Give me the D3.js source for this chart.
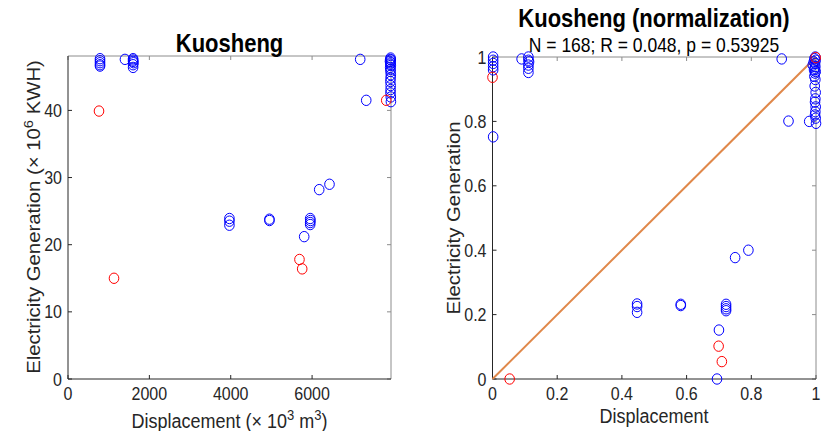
<!DOCTYPE html>
<html><head><meta charset="utf-8">
<script src="https://cdn.jsdelivr.net/npm/d3@7"></script>
<style>
body{margin:0;background:#fff;}
svg{display:block;font-family:"Liberation Sans",Arial,sans-serif;}
</style></head>
<body><svg id="c" width="824" height="431"></svg>
<script>
// ---------- data (left: raw, right: normalized) ----------
const leftBlueX = [787,787,787,787,787, 1400, 1600,1600,1600,1610,1600,1600,
  3968,3968,3968, 4952,4952, 5953,5960,5953,5953, 5806, 6175,6428, 7183, 7331,
  7930,7920,7935,7915,7930,7925,7935,7920,7930,7928,7935,7930,7925,7932,7930,7928,7935,7938];
const leftBlueY = [47.7,47.4,47.1,46.8,46.6, 47.6, 47.7,47.5,47.3,47.1,46.8,46.4,
  23.9,23.5,22.9, 23.8,23.6, 23.9,23.6,23.3,23.0, 21.2, 28.2,29.0, 47.6, 41.5,
  47.8,47.6,47.5,47.3,47.1,46.9,46.7,46.4,46.1,45.8,45.3,44.8,44.3,43.7,43.1,42.6,42.0,41.3];
const leftRedX = [762, 1131, 5690, 5757, 7823];
const leftRedY = [39.9, 15.0, 17.8, 16.4, 41.5];

const rightBlueX = [0.002,0.002,0.002,0.002,0.002, 0.002, 0.09,
  0.111,0.111,0.113,0.111,0.111,0.111,
  0.447,0.447,0.447, 0.582,0.582, 0.722,0.722,0.722,0.722, 0.700,0.694, 0.75,0.791,
  0.894, 0.915,0.979,
  0.998,0.995,0.999,0.993,0.997,0.99,0.998,0.996,0.994,0.999,0.997,0.995,0.998,0.996,0.999,0.998,0.997,0.999,0.998,0.997,0.999,1.0];
const rightBlueY = [1.0,0.99,0.98,0.97,0.96, 0.752, 0.994,
  1.0,0.99,0.985,0.975,0.965,0.952,
  0.233,0.225,0.207, 0.232,0.228, 0.232,0.225,0.218,0.212, 0.152,0.0, 0.377,0.40,
  0.994, 0.801,0.80,
  1.0,0.995,0.99,0.985,0.98,0.975,0.97,0.965,0.96,0.955,0.95,0.94,0.93,0.91,0.89,0.87,0.86,0.845,0.83,0.82,0.81,0.794];
const rightRedX = [0.0, 0.053, 0.699, 0.709, 0.999];
const rightRedY = [0.937, 0.0, 0.102, 0.054, 0.998];

const leftXTicks = [0,2000,4000,6000];
const leftYTicks = [0,10,20,30,40];
const rightTicks = [0,0.2,0.4,0.6,0.8,1];
const fitLine = [[0,0],[1,1]];

const svg = d3.select("#c");
const DARK = "#262626", LIGHT = "#8c8c8c";
const VS = 1.13; // vertical stretch of the reference image

function htext(g, x, y, size, anchor, str, opts={}){
  const t = g.append("text")
    .attr("transform", `translate(${x},${y}) scale(1,${VS})`)
    .attr("text-anchor", anchor).attr("font-size", size)
    .attr("fill", opts.fill || DARK);
  if (opts.bold) t.attr("font-weight","bold");
  if (str !== null) t.text(str);
  return t;
}
function vtext(g, x, y, size, str){
  const t = g.append("text")
    .attr("transform", `translate(${x},${y}) scale(1,${VS}) rotate(-90)`)
    .attr("text-anchor","middle").attr("font-size",size).attr("fill",DARK);
  if (str !== null) t.text(str);
  return t;
}

function drawAxes(g, x, y, xt, yt, fmt){
  const [x0,x1] = x.range(), [y0,y1] = y.range();
  const tl = 4;
  xt.forEach(v=>{
    g.append("line").attr("x1",x(v)).attr("x2",x(v)).attr("y1",y0).attr("y2",y0-tl).attr("stroke",DARK);
    g.append("line").attr("x1",x(v)).attr("x2",x(v)).attr("y1",y1).attr("y2",y1+tl).attr("stroke",LIGHT);
    htext(g, x(v), y0+20.5, 16, "middle", fmt(v));
  });
  yt.forEach(v=>{
    g.append("line").attr("x1",x0).attr("x2",x0+tl).attr("y1",y(v)).attr("y2",y(v)).attr("stroke",DARK);
    g.append("line").attr("x1",x1).attr("x2",x1-tl).attr("y1",y(v)).attr("y2",y(v)).attr("stroke",LIGHT);
    htext(g, x0-6, y(v)+6.5, 16, "end", fmt(v));
  });
  g.append("line").attr("x1",x0).attr("x2",x1).attr("y1",y1).attr("y2",y1).attr("stroke",LIGHT);
  g.append("line").attr("x1",x1).attr("x2",x1).attr("y1",y0).attr("y2",y1).attr("stroke",LIGHT);
  g.append("line").attr("x1",x0).attr("x2",x1).attr("y1",y0).attr("y2",y0).attr("stroke",DARK);
  g.append("line").attr("x1",x0).attr("x2",x0).attr("y1",y0).attr("y2",y1).attr("stroke",DARK);
}
function dots(g, x, y, xs, ys, col){
  g.selectAll(null).data(xs.map((v,i)=>[v,ys[i]])).enter().append("ellipse")
    .attr("cx",d=>x(d[0])).attr("cy",d=>y(d[1])).attr("rx",4.8).attr("ry",5.2)
    .attr("fill","none").attr("stroke",col).attr("stroke-width",1);
}

// ---------- left panel ----------
const xL = d3.scaleLinear().domain([0,7940]).range([68,391]);
const yL = d3.scaleLinear().domain([0,48.1]).range([379,56]);
const gL = svg.append("g");
drawAxes(gL, xL, yL, leftXTicks, leftYTicks, d=>String(d));
dots(gL, xL, yL, leftBlueX, leftBlueY, "#0000ff");
dots(gL, xL, yL, leftRedX, leftRedY, "#ff0000");
htext(gL, 229.5, 52, 22, "middle", "Kuosheng", {bold:true, fill:"#000"});
const xlab = htext(gL, 229.5, 428, 18, "middle", null);
xlab.append("tspan").text("Displacement (\u00d7 10");
xlab.append("tspan").attr("dy",-7).attr("font-size",13).text("3");
xlab.append("tspan").attr("dy",7).text(" m");
xlab.append("tspan").attr("dy",-7).attr("font-size",13).text("3");
xlab.append("tspan").attr("dy",7).text(")");
const ylab = vtext(gL, 40, 217, 18, null);
ylab.append("tspan").text("Electricity Generation (\u00d7 10");
ylab.append("tspan").attr("dy",-7).attr("font-size",13).text("6");
ylab.append("tspan").attr("dy",7).text(" KWH)");

// ---------- right panel ----------
const xR = d3.scaleLinear().domain([0,1]).range([492.5,816]);
const yR = d3.scaleLinear().domain([0,1]).range([379,57]);
const gR = svg.append("g");
drawAxes(gR, xR, yR, rightTicks, rightTicks, d=>String(d));
gR.append("path").datum(fitLine)
  .attr("d", d3.line().x(d=>xR(d[0])).y(d=>yR(d[1])))
  .attr("stroke","#e0884a").attr("stroke-width",2).attr("fill","none");
dots(gR, xR, yR, rightBlueX, rightBlueY, "#0000ff");
dots(gR, xR, yR, rightRedX, rightRedY, "#ff0000");
htext(gR, 654, 27, 22, "middle", "Kuosheng (normalization)", {bold:true, fill:"#000"});
htext(gR, 654, 51.5, 17.5, "middle", "N = 168; R = 0.048, p = 0.53925", {fill:"#000"});
htext(gR, 654, 422.5, 18, "middle", "Displacement");
vtext(gR, 460, 218, 18, "Electricity Generation");
</script></body></html>
